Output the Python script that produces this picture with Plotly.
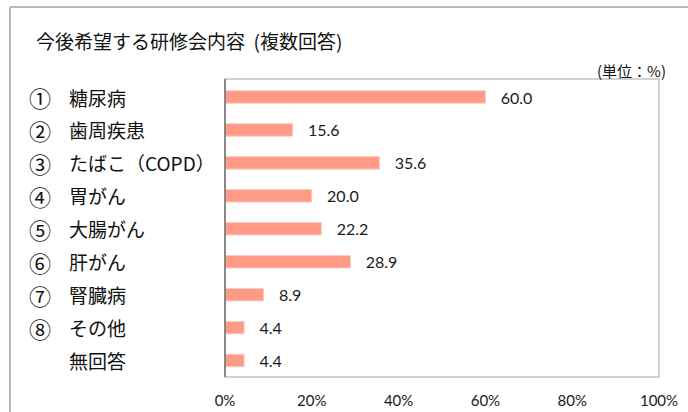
import plotly.graph_objects as go

numbers = ["①", "②", "③", "④", "⑤", "⑥", "⑦", "⑧", ""]
categories = ["糖尿病", "歯周疾患", "たばこ（COPD）", "胃がん", "大腸がん", "肝がん", "腎臓病", "その他", "無回答"]
values = [60.0, 15.6, 35.6, 20.0, 22.2, 28.9, 8.9, 4.4, 4.4]
tick_vals = [0, 20, 40, 60, 80, 100]
tick_text = ["0%", "20%", "40%", "60%", "80%", "100%"]
title_text = "今後希望する研修会内容  (複数回答)"
unit_text = "(単位：%)"

W, H = 688, 412
L, R, T, B = 225, 29, 79, 35
pw = W - L - R
ph = H - T - B

jp = "Noto Sans CJK JP"
num_font = "Lato, Noto Sans"

fig = go.Figure()
fig.add_trace(go.Bar(
    x=values, y=categories, orientation="h",
    marker=dict(color="#FF9A86", line=dict(color="#F6CFC7", width=1)),
    width=0.38,
    text=values, texttemplate="   %{x:.1f}", textposition="outside",
    constraintext="none",
    textfont=dict(family=num_font, size=16, color="#1a1a1a"),
    cliponaxis=False,
))

annotations = []
for n, c in zip(numbers, categories):
    if n:
        annotations.append(dict(x=(40 - L) / pw, y=c, xref="paper", yref="y", text=n,
                                showarrow=False, xanchor="center",
                                font=dict(family=jp, size=22, color="#111")))
    annotations.append(dict(x=(67 - L) / pw, y=c, xref="paper", yref="y", text=c,
                            showarrow=False, xanchor="left",
                            font=dict(family=jp, size=19, color="#111")))
annotations.append(dict(x=(34 - L) / pw, y=1 + (T - 40) / ph, xref="paper", yref="paper",
                        text=title_text, showarrow=False, xanchor="left", yanchor="middle",
                        font=dict(family=jp, size=19, color="#111")))
annotations.append(dict(x=(668 - L) / pw, y=1 + (T - 70) / ph, xref="paper", yref="paper",
                        text=unit_text, showarrow=False, xanchor="right", yanchor="middle",
                        font=dict(family=jp, size=15, color="#111")))

shapes = [
    dict(type="rect", xref="paper", yref="paper", x0=0, x1=1, y0=0, y1=1,
         line=dict(color="#C4C4C4", width=1.5), layer="above"),
    dict(type="line", xref="paper", yref="paper", x0=0, x1=0, y0=0, y1=1,
         line=dict(color="#888888", width=2), layer="above"),
    # outer frame
    dict(type="line", xref="paper", yref="paper",
         x0=(10 - L) / pw, x1=(W + 5 - L) / pw,
         y0=1 + (T - 7) / ph, y1=1 + (T - 7) / ph,
         line=dict(color="#A0A0A0", width=1.5)),
    dict(type="line", xref="paper", yref="paper",
         x0=(10 - L) / pw, x1=(10 - L) / pw,
         y0=1 + (T - 7) / ph, y1=-(B + 5) / ph,
         line=dict(color="#A0A0A0", width=1.5)),
]

fig.update_layout(
    width=W, height=H,
    margin=dict(l=L, r=R, t=T, b=B, pad=0, autoexpand=False),
    paper_bgcolor="white", plot_bgcolor="white",
    showlegend=False,
    annotations=annotations,
    shapes=shapes,
    xaxis=dict(range=[0, 100], tickvals=tick_vals, ticktext=tick_text,
               showgrid=False, zeroline=False, showline=False,
               ticks="", ticklabelstandoff=13, automargin=False,
               tickfont=dict(family=num_font, size=15, color="#1a1a1a"),
               fixedrange=True),
    yaxis=dict(autorange="reversed", showticklabels=False, showgrid=False,
               automargin=False,
               zeroline=False, showline=False, ticks="", fixedrange=True),
)

fig.write_html("out.html",
               config={"displayModeBar": False},
               post_script="document.body.style.margin='0px';document.body.style.overflow='hidden';")
